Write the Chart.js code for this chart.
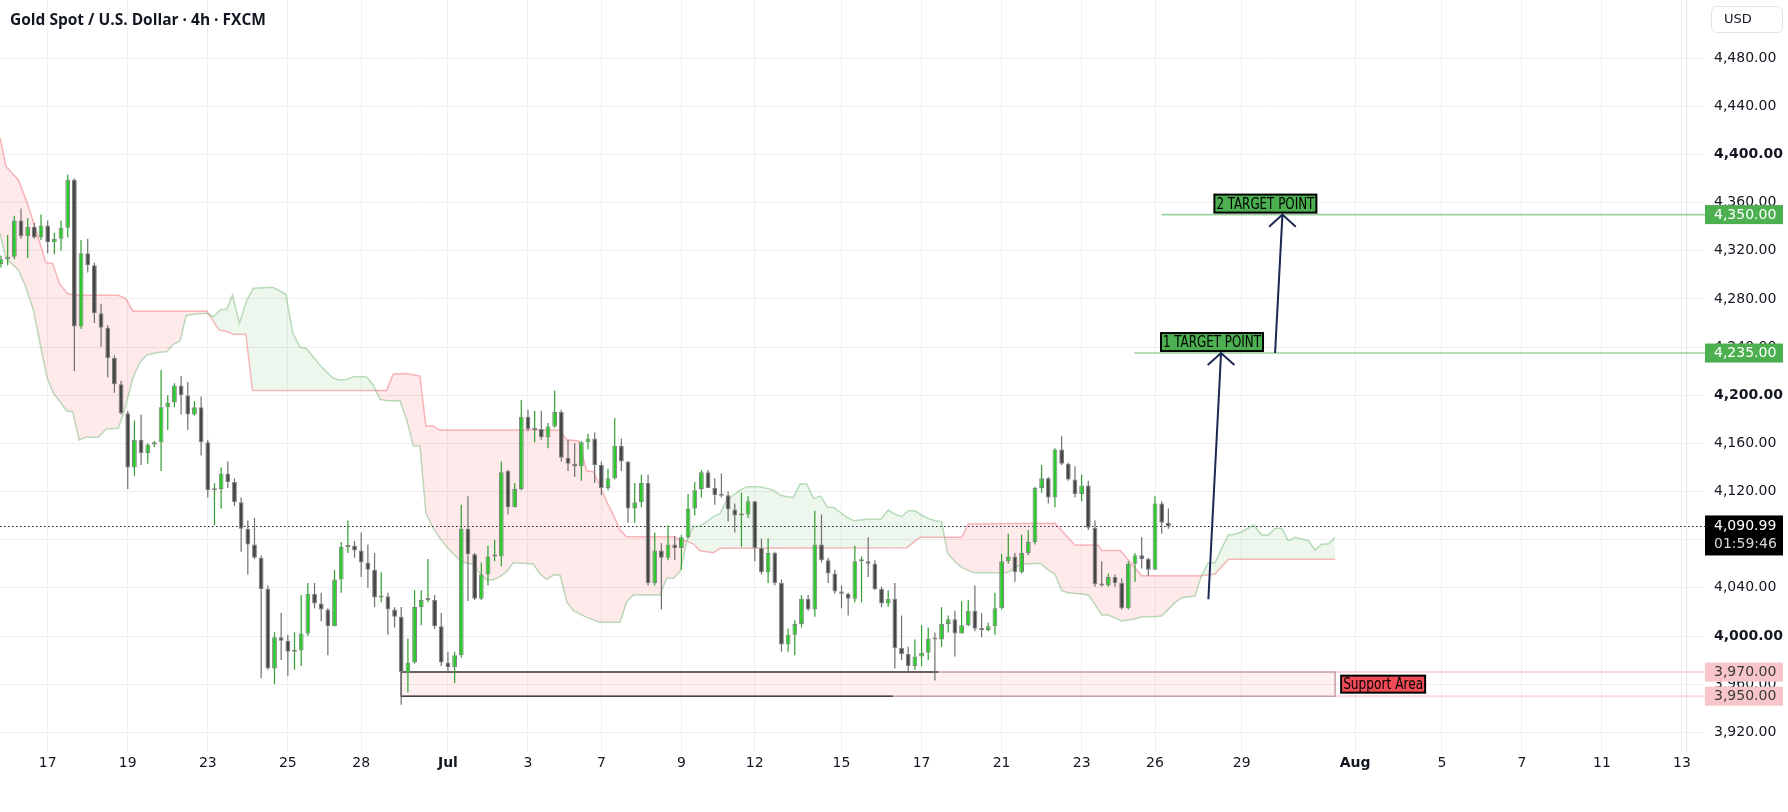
<!DOCTYPE html>
<html>
<head>
<meta charset="utf-8">
<title>Gold Spot / U.S. Dollar · 4h · FXCM</title>
<script src="https://cdn.jsdelivr.net/npm/chart.js@4.4.1/dist/chart.umd.min.js"></script>
<style>
  html, body { margin: 0; padding: 0; background: #fff; }
  #wrap { position: relative; width: 1788px; height: 812px; }
</style>
</head>
<body>
<div id="wrap"><canvas id="goldChart"></canvas></div>
<script>
// 4h candles, bar 0 = first bar visible on the left
const opens = [4309,4313,4315,4345,4332,4340,4331,4341,4327,4330,4339,4379,4257,4318,4308,4268,4256,4231,4209,4185,
  4140,4163,4152,4159,4161,4190,4194,4208,4200,4184,4190,4161,4121,4122,4135,4128,4111,4089,4076,4065,
  4039,3973,3999,3996,3987,3988,4002,4035,4027,4022,4008,4047,4074,4075,4071,4061,4055,4032,4033,4022,
  4016,3969,3978,4024,4030,4030,4008,3978,3974,3984,4089,4068,4031,4051,4066,4066,4137,4107,4122,4182,
  4171,4172,4165,4174,4186,4148,4143,4141,4161,4164,4142,4123,4131,4158,4145,4106,4111,4127,4044,4071,
  4065,4076,4073,4082,4106,4122,4136,4123,4117,4117,4105,4100,4101,4112,4073,4053,4069,4044,3993,4001,
  4010,4031,4022,4076,4063,4052,4037,4035,4031,4062,4062,4060,4039,4027,4031,3990,3985,3975,3983,3986,
  3998,3997,4010,4014,4002,4009,4021,4006,4005,4008,4023,4062,4066,4053,4069,4078,4123,4131,4115,4155,
  4143,4130,4118,4125,4090,4043,4042,4049,4044,4023,4060,4067,4064,4055,4110,4094];
const highs = [4316,4333,4349,4355,4347,4343,4350,4345,4335,4345,4383,4380,4329,4330,4310,4276,4258,4233,4212,4187,
  4179,4184,4160,4162,4221,4200,4210,4216,4211,4195,4199,4163,4127,4140,4145,4131,4115,4096,4098,4067,
  4042,4003,4019,4001,4003,4034,4044,4044,4036,4023,4055,4078,4096,4079,4086,4076,4069,4053,4036,4024,
  4024,3998,4038,4038,4064,4034,4019,3987,3987,4109,4116,4069,4061,4075,4080,4145,4138,4127,4196,4188,
  4187,4187,4177,4204,4188,4163,4160,4162,4168,4169,4145,4139,4181,4164,4145,4127,4134,4134,4086,4077,
  4092,4083,4084,4118,4128,4138,4138,4131,4135,4120,4110,4119,4116,4112,4081,4081,4070,4047,4006,4013,
  4034,4034,4104,4101,4065,4055,4042,4036,4075,4066,4082,4063,4041,4038,4044,4017,3991,3997,4009,4007,
  4003,4024,4017,4021,4029,4030,4042,4019,4011,4036,4068,4085,4069,4084,4088,4124,4142,4132,4156,4166,
  4144,4141,4134,4129,4096,4062,4052,4051,4048,4062,4069,4082,4065,4116,4112,4106];
const lows = [4306,4308,4313,4330,4314,4330,4329,4318,4317,4320,4331,4220,4255,4302,4260,4240,4215,4202,4184,4122,
  4133,4142,4143,4157,4137,4171,4190,4184,4171,4183,4150,4115,4092,4106,4123,4108,4070,4051,4064,3965,
  3972,3960,3980,3967,3972,3975,4000,4023,4012,3984,4008,4036,4069,4065,4049,4040,4024,4028,4001,4007,
  3943,3953,3977,4009,4028,4006,3975,3970,3961,3982,4029,4030,4030,4042,4062,4058,4101,4107,4121,4170,
  4161,4163,4156,4173,4145,4137,4132,4129,4155,4127,4117,4121,4130,4137,4094,4094,4107,4042,4042,4022,
  4063,4063,4055,4081,4100,4115,4123,4109,4115,4095,4086,4074,4098,4062,4051,4044,4042,3987,3987,3984,
  4007,4021,4016,4061,4044,4035,4023,4017,4028,4028,4049,4038,4024,4024,3973,3980,3970,3972,3975,3980,
  3963,3991,4003,3983,4002,4008,4004,3999,4004,4001,4022,4060,4045,4052,4067,4076,4119,4110,4107,4142,
  4129,4115,4112,4088,4041,4041,4041,4041,4022,4022,4045,4056,4050,4055,4085,4089];
const closes = [4313,4315,4345,4332,4340,4331,4341,4327,4330,4339,4379,4257,4318,4308,4268,4256,4231,4209,4185,4140,
  4163,4152,4159,4161,4190,4194,4208,4200,4184,4190,4161,4121,4122,4135,4128,4111,4089,4076,4065,4039,
  3973,3999,3996,3987,3988,4002,4035,4027,4022,4008,4047,4074,4075,4071,4061,4055,4032,4033,4022,4016,
  3970,3978,4024,4030,4031,4008,3978,3974,3984,4089,4068,4031,4051,4066,4066.5,4136,4107,4122,4182,4172,
  4172,4165,4174,4186,4148,4143,4141,4161,4164,4142,4123,4131,4158,4145,4106,4111,4127,4044,4071,4065,
  4076,4073,4082,4106,4121,4136,4123,4117,4116.5,4105,4100,4101,4112,4073,4053,4069,4044,3993,4001,4010,
  4031,4022,4076,4063,4052,4037,4035,4031,4062,4062.5,4060,4039,4027,4031,3990,3985,3975,3983,3986,3998,
  3997,4010,4014,4002,4009,4021,4006,4005,4008,4023,4062,4066,4053,4069,4078,4123,4131,4115,4155,4143,
  4130,4118,4125,4090,4043,4042,4049,4044,4023,4060,4067,4064,4055,4110,4094,4090.99];

// Ichimoku cloud, [bar, price] vertices (shifted 26 bars ahead)
const spanA = [[-0.15,4334.5],[0.75,4313.7],[2.6,4304],[3.6,4291.5],[4.85,4270.8],[5.85,4243],[6.85,4215.4],[7.85,4201.6],
  [8.85,4194.6],[9.85,4186.9],[10.75,4186.3],[11.7,4162.8],[12.75,4165],[14.6,4165],[15.75,4172],[17.6,4172.5],[18.6,4189],
  [19.75,4214],[20.75,4226.5],[21.85,4233.4],[23.75,4235.6],[24.85,4236],[25.85,4242.3],[26.85,4245],[27.75,4266],
  [28.85,4267.2],[30.85,4268],[31.85,4265.2],[32.85,4270.8],[33.85,4271.6],[34.7,4283.2],[35.75,4259.7],[36.85,4279],
  [37.85,4288.8],[40.75,4289.6],[42.7,4283.8],[43.75,4251.4],[44.85,4239.8],[45.75,4239],[46.8,4232],[47.8,4225],
  [48.8,4219.5],[49.8,4214],[50.7,4212.6],[51.8,4213],[52.8,4215.4],[54.8,4215.4],[55.8,4208.5],[56.8,4196.6],
  [57.8,4195.4],[59.8,4195.4],[60.8,4180],[61.8,4157.8],[62.8,4157.8],[63.7,4101.9],[64.8,4089.4],[65.8,4081.1],
  [66.8,4074.2],[67.8,4068.1],[68.8,4063.1],[69.8,4060.4],[70.8,4059.5],[71.8,4052],[72.8,4046.5],[73.8,4046.5],
  [74.8,4049.3],[75.8,4053.4],[76.8,4060.9],[79.8,4059.8],[80.8,4051.5],[81.8,4047],[82.8,4050.6],[83.8,4050.6],
  [84.8,4028.5],[85.8,4021],[87.8,4015.5],[89.8,4011.4],[92.8,4011.4],[93.8,4028.5],[94.8,4034],[98.8,4034],
  [99.8,4047.9],[100.8,4047.9],[101.8,4053.4],[102.9,4081.1],[103.8,4090.8],[104.8,4091.3],[105.8,4094.9],
  [106.8,4099.1],[107.8,4101.9],[108.8,4112.9],[109.8,4117.1],[110.8,4121.2],[111.8,4124],[113.8,4124],[114.8,4122.6],
  [115.8,4121.2],[116.8,4117.1],[117.8,4115.7],[118.8,4115.2],[119.8,4126.2],[120.8,4126.2],[121.8,4114.3],
  [122.9,4116.2],[123.9,4106.9],[124.8,4106.9],[125.8,4102.8],[126.8,4098.6],[127.8,4095.8],[129.8,4096.9],
  [131.9,4096.9],[133,4104.6],[134,4101.3],[135,4099.1],[136,4104.1],[137,4104],[138,4100.5],[139,4097.7],[140,4095.8],
  [141,4095],[141.9,4068.7],[143,4061.7],[144,4057],[145,4054.3],[146,4052.6],[150.8,4052.6],[153,4059.8],[155.8,4060.4],
  [157,4054.8],[158,4051.5],[159,4037.6],[160,4036],[162,4034.9],[163,4034],[164,4026.3],[165,4017.4],[166,4017.4],
  [168,4012.5],[169,4013.3],[170,4014.1],[171,4016],[173,4016],[174,4016.6],[175,4022.1],[176,4027.7],[177,4031.8],
  [179,4033.2],[180,4050.6],[181,4060.9],[182,4060.9],[183,4072.8],[184,4083.9],[185,4084.5],[186,4086.6],[187.8,4092.2],
  [189,4083.9],[190,4083.9],[191,4089.4],[192,4089.4],[193,4079.1],[194,4081.9],[195,4080.6],[196,4079.1],[197,4071.4],
  [198,4076.4],[199,4076.4],[200,4082]];
const spanB = [[-0.15,4414],[0.75,4390],[2.6,4379],[3.85,4361],[4.85,4344],[6.75,4310],[7.75,4309.5],[8.75,4293],
  [9.85,4285],[10.85,4283],[17.6,4283],[18.75,4280],[19.75,4270],[30.85,4270],[32.7,4254],[33.85,4253],[34.8,4250.6],
  [36.7,4250.6],[37.7,4204],[57.8,4204],[58.8,4217.6],[60.6,4218],[61.8,4217],[62.8,4216],[63.7,4174.4],[64.8,4174.4],
  [65.8,4171],[83.7,4171],[84.8,4163],[86.6,4162],[87.8,4137],[88.8,4136.5],[89.8,4125],[90.8,4111.6],[91.8,4100.5],
  [92.8,4088],[93.8,4082.5],[100.8,4082.5],[101.8,4079.7],[102.8,4079],[103.8,4076.4],[104.8,4070.8],[106.8,4069.2],
  [107.8,4072.8],[135.8,4073.4],[137.8,4082],[144,4082],[145,4093],[158,4093.6],[161,4075.6],[164.5,4075.6],[165,4071],
  [167.8,4071],[171,4050],[180,4050],[182,4051.5],[184,4063.7],[200,4063.7]];

// time axis: bar index of each date label
const dateTickBars = [7, 19, 31, 43, 54, 67, 79, 90, 102, 113, 126, 138, 150, 162, 173, 186, 203, 216, 228, 240, 252];
const dateTickLabels = ['17', '19', '23', '25', '28', 'Jul', '3', '7', '9', '12', '15', '17', '21', '23', '26', '29', 'Aug', '5', '7', '11', '13'];
const priceTicks = [3920, 3960, 4000, 4040, 4080, 4120, 4160, 4200, 4240, 4280, 4320, 4360, 4400, 4440, 4480];

// drawings
const targetLevels = [4235, 4350];
const targetNames = ['1 TARGET POINT', '2 TARGET POINT'];
const supportLevels = [3950, 3970];
const countdown = '01:59:46';

const lastClose = closes[closes.length - 1];
const fmt = v => v.toLocaleString('en-US', { minimumFractionDigits: 2, maximumFractionDigits: 2 });

const upColor = '#2fc72f', downColor = '#464646';
const upWick = '#2f9f2f', downWick = '#6f6f6f';
const isUp = closes.map((c, i) => c >= opens[i]);

const bodyData = opens.map((o, i) => ({ x: i, y: [o, closes[i]] }));
const wickData = lows.map((l, i) => ({ x: i, y: [l, highs[i]] }));

const PLOT_RIGHT = 1686;
const PLOT_BOTTOM = 752;
const AXIS_LABEL_X = 1705;
const TICK_FONT = 'DejaVu Sans';
const NOTE_FONT = '"DejaVu Sans Condensed", "DejaVu Sans", sans-serif';

function priceTag(ctx, yPix, text, bg, fg, sub) {
    const h = sub ? 40 : 19;
    const top = sub ? yPix - 11 : yPix - h / 2;
    ctx.fillStyle = bg;
    ctx.fillRect(AXIS_LABEL_X, top, 78, h);
    ctx.fillStyle = fg;
    ctx.font = '14px ' + TICK_FONT;
    ctx.textAlign = 'left';
    ctx.textBaseline = 'middle';
    ctx.fillText(text, 1714, sub ? yPix : yPix + 0.5);
    if (sub) {
        ctx.fillStyle = '#d8d8d8';
        ctx.fillText(sub, 1714, yPix + 18);
    }
}

function noteBox(ctx, x, yBottom, w, h, text, bg) {
    ctx.fillStyle = bg;
    ctx.fillRect(x, yBottom - h, w, h);
    ctx.strokeStyle = '#000';
    ctx.lineWidth = 2;
    ctx.strokeRect(x, yBottom - h, w, h);
    ctx.fillStyle = '#000';
    ctx.font = '15.5px ' + NOTE_FONT;
    ctx.textAlign = 'center';
    ctx.textBaseline = 'middle';
    ctx.fillText(text, x + w / 2, yBottom - h / 2 + 1, w - 4);
}

function arrow(ctx, x, y, from, to) {
    const x0 = x.getPixelForValue(from[0]), y0 = y.getPixelForValue(from[1]);
    const x1 = x.getPixelForValue(to[0]), y1 = y.getPixelForValue(to[1]);
    const wingL = [x.getPixelForValue(to[0] - 2), y.getPixelForValue(to[1] - 10)];
    const wingR = [x.getPixelForValue(to[0] + 2), y.getPixelForValue(to[1] - 10)];
    ctx.strokeStyle = '#1c2754';
    ctx.lineWidth = 2;
    ctx.beginPath();
    ctx.moveTo(x0, y0);
    ctx.lineTo(x1, y1);
    ctx.moveTo(wingL[0], wingL[1]);
    ctx.lineTo(x1, y1);
    ctx.lineTo(wingR[0], wingR[1]);
    ctx.stroke();
}

const drawings = {
    id: 'drawings',
    beforeDatasetsDraw(chart) {
        const { ctx, scales: { x, y } } = chart;
        ctx.save();
        // support area
        const left = x.getPixelForValue(60), right = x.getPixelForValue(200);
        const top = y.getPixelForValue(supportLevels[1]), bottom = y.getPixelForValue(supportLevels[0]);
        ctx.fillStyle = 'rgba(242,54,69,0.08)';
        ctx.fillRect(left, top, right - left, bottom - top);
        ctx.lineWidth = 1.5;
        ctx.strokeStyle = 'rgba(180,120,125,0.7)';
        ctx.beginPath();
        ctx.moveTo(left, top); ctx.lineTo(right, top); ctx.lineTo(right, bottom); ctx.lineTo(left, bottom);
        ctx.stroke();
        ctx.strokeStyle = '#444';
        ctx.beginPath();
        ctx.moveTo(x.getPixelForValue(140.5), top); ctx.lineTo(left, top); ctx.lineTo(left, bottom);
        ctx.lineTo(x.getPixelForValue(133.7), bottom);
        ctx.stroke();
        // support levels carried to the price scale
        ctx.strokeStyle = 'rgba(242,54,69,0.18)';
        ctx.lineWidth = 2;
        ctx.beginPath();
        ctx.moveTo(right, top); ctx.lineTo(AXIS_LABEL_X, top);
        ctx.moveTo(right, bottom); ctx.lineTo(AXIS_LABEL_X, bottom);
        ctx.stroke();
        // last price line
        const yl = Math.round(y.getPixelForValue(lastClose)) + 0.5;
        ctx.strokeStyle = '#131722';
        ctx.lineWidth = 1;
        ctx.setLineDash([1.5, 2.5]);
        ctx.beginPath();
        ctx.moveTo(0, yl); ctx.lineTo(AXIS_LABEL_X, yl);
        ctx.stroke();
        ctx.restore();
    },
    afterDatasetsDraw(chart) {
        const { ctx, scales: { x, y } } = chart;
        ctx.save();
        const lineStart = [169.9, 174];
        const boxStart = [173.9, 181.9];
        targetLevels.forEach((lvl, i) => {
            const yp = y.getPixelForValue(lvl);
            ctx.strokeStyle = 'rgba(76,175,80,0.55)';
            ctx.lineWidth = 1.6;
            ctx.beginPath();
            ctx.moveTo(x.getPixelForValue(lineStart[i]), yp);
            ctx.lineTo(AXIS_LABEL_X, yp);
            ctx.stroke();
        });
        arrow(ctx, x, y, [181, 4030.5], [182.9, targetLevels[0]]);
        arrow(ctx, x, y, [191, targetLevels[0]], [192.1, targetLevels[1]]);
        targetLevels.forEach((lvl, i) => {
            noteBox(ctx, x.getPixelForValue(boxStart[i]), y.getPixelForValue(lvl) - 2, 102, 18, targetNames[i], '#4caf50');
        });
        // support label
        const sTop = y.getPixelForValue(supportLevels[1]), sBot = y.getPixelForValue(supportLevels[0]);
        const sMid = (sTop + sBot) / 2;
        noteBox(ctx, x.getPixelForValue(200) + 6, sMid + 8.5, 84, 17, 'Support Area', '#f04b57');
        ctx.restore();
    },
    afterDraw(chart) {
        const { ctx, scales: { y } } = chart;
        ctx.save();
        priceTag(ctx, y.getPixelForValue(targetLevels[1]), fmt(targetLevels[1]), '#4caf50', '#fff');
        priceTag(ctx, y.getPixelForValue(targetLevels[0]), fmt(targetLevels[0]), '#4caf50', '#fff');
        priceTag(ctx, y.getPixelForValue(supportLevels[1]), fmt(supportLevels[1]), '#f8c6ca', '#3a3a3a');
        priceTag(ctx, y.getPixelForValue(supportLevels[0]), fmt(supportLevels[0]), '#f8c6ca', '#3a3a3a');
        priceTag(ctx, y.getPixelForValue(lastClose), fmt(lastClose), '#000', '#fff', countdown);
        // title
        ctx.fillStyle = '#131722';
        ctx.font = 'bold 15.5px "Open Sans"';
        ctx.textAlign = 'left';
        ctx.textBaseline = 'middle';
        ctx.fillText('Gold Spot / U.S. Dollar · 4h · FXCM', 10, 21);
        // currency button
        ctx.strokeStyle = '#e0e3eb';
        ctx.lineWidth = 1;
        ctx.beginPath();
        ctx.roundRect(1711.5, 6.5, 71, 26, 5);
        ctx.stroke();
        ctx.fillStyle = '#131722';
        ctx.font = '13px ' + TICK_FONT;
        ctx.fillText('USD', 1724, 20);
        ctx.restore();
    }
};

// price scale: 1.204 px per dollar, 4,000 sits 636 px from the top
const yTop = 4000 + 636 / 1.204;
const yBottom = 4000 - (PLOT_BOTTOM - 636) / 1.204;

new Chart(document.getElementById('goldChart'), {
    type: 'bar',
    data: {
        datasets: [
            {
                type: 'line', label: 'Lead 2', data: spanB.map(([b, v]) => ({ x: b, y: v })),
                borderColor: 'rgba(242,54,69,0.35)', borderWidth: 1.5, pointRadius: 0, tension: 0, order: 5
            },
            {
                type: 'line', label: 'Lead 1', data: spanA.map(([b, v]) => ({ x: b, y: v })),
                borderColor: 'rgba(67,160,71,0.35)', borderWidth: 1.5, pointRadius: 0, tension: 0, order: 4,
                fill: { target: 0, above: 'rgba(76,175,80,0.10)', below: 'rgba(242,54,69,0.11)' }
            },
            {
                label: 'Wick', data: wickData, grouped: false, maxBarThickness: 1.2, order: 2,
                backgroundColor: isUp.map(u => u ? upWick : downWick)
            },
            {
                label: 'Body', data: bodyData, grouped: false, maxBarThickness: 5, order: 1, minBarLength: 2,
                backgroundColor: isUp.map(u => u ? upColor : downColor),
                borderColor: '#808080', borderWidth: 1, borderSkipped: false
            }
        ]
    },
    options: {
        responsive: true,
        maintainAspectRatio: false,
        animation: false,
        layout: { padding: 0 },
        plugins: { legend: { display: false }, tooltip: { enabled: false } },
        scales: {
            x: {
                type: 'linear', min: -0.15, max: 252.6, offset: false,
                afterBuildTicks: s => { s.ticks = dateTickBars.map(v => ({ value: v })); },
                afterFit: s => { s.height = 812 - PLOT_BOTTOM; s.paddingLeft = 0; s.paddingRight = 0; },
                grid: { color: '#f0f0f0', drawTicks: false, offset: false },
                border: { display: false },
                ticks: {
                    autoSkip: false, maxRotation: 0, padding: 3, color: '#131722',
                    font: c => ({ family: TICK_FONT, size: 14, weight: (c.tick && (c.tick.value === 67 || c.tick.value === 203)) ? 'bold' : 'normal' }),
                    callback: v => dateTickLabels[dateTickBars.indexOf(v)]
                }
            },
            y: {
                type: 'linear', position: 'right', min: yBottom, max: yTop,
                afterBuildTicks: s => { s.ticks = priceTicks.map(v => ({ value: v })); },
                afterFit: s => { s.width = 1788 - PLOT_RIGHT; s.paddingTop = 0; s.paddingBottom = 0; },
                grid: { color: '#efefef', tickLength: 18 },
                border: { display: true, color: '#e0e3eb' },
                ticks: {
                    padding: 10, crossAlign: 'near', color: '#131722',
                    font: c => ({ family: TICK_FONT, size: 14, weight: (c.tick && c.tick.value % 200 === 0) ? 'bold' : 'normal' }),
                    callback: v => fmt(v)
                }
            }
        }
    },
    plugins: [drawings]
});
</script>
</body>
</html>
